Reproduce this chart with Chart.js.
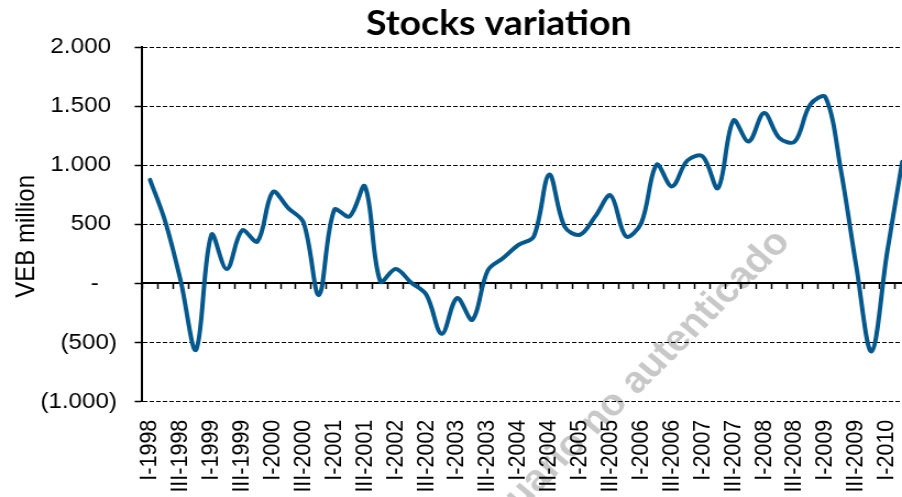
<!DOCTYPE html>
<html><head><meta charset="utf-8">
<script src="https://cdn.jsdelivr.net/npm/chart.js@4.4.1/dist/chart.umd.min.js"></script>
<style>
html,body{margin:0;padding:0;width:902px;height:497px;overflow:hidden;background:#fff;}
#wrap{position:absolute;left:0;top:0;width:907px;height:497px;transform:scaleX(1.1);transform-origin:0 0;}
</style></head><body>
<div id="wrap"><canvas id="c"></canvas></div>
<script>
const categories = [
  'I-1998','II-1998','III-1998','IV-1998',
  'I-1999','II-1999','III-1999','IV-1999',
  'I-2000','II-2000','III-2000','IV-2000',
  'I-2001','II-2001','III-2001','IV-2001',
  'I-2002','II-2002','III-2002','IV-2002',
  'I-2003','II-2003','III-2003','IV-2003',
  'I-2004','II-2004','III-2004','IV-2004',
  'I-2005','II-2005','III-2005','IV-2005',
  'I-2006','II-2006','III-2006','IV-2006',
  'I-2007','II-2007','III-2007','IV-2007',
  'I-2008','II-2008','III-2008','IV-2008',
  'I-2009','II-2009','III-2009','IV-2009',
  'I-2010','II-2010'
];
const stocksVariation = [
  877, 520, 20, -560,
  412, 122, 449, 355,
  773, 638, 515, -96,
  623, 567, 821, 17,
  122, 8, -96, -426,
  -124, -307, 110, 215,
  327, 398, 920, 482,
  412, 567, 745, 398,
  511, 1004, 821, 1040,
  1075, 807, 1379, 1201,
  1441, 1230, 1200, 1512,
  1575, 960, 150, -575,
  250, 1030
];
const yTickValues = [-1000, -500, 0, 500, 1000, 1500, 2000];
const yTickLabels = ['(1.000)', '(500)', '-', '500', '1.000', '1.500', '2.000'];
const chartTitle = 'Stocks variation';
const yAxisTitle = 'VEB million';
const watermarkText = 'Usuario no autenticado';

const watermark = {
  id: 'watermark',
  beforeDraw(chart) {
    const ctx = chart.ctx;
    ctx.save();
    ctx.translate(712, 236);
    ctx.rotate(-47.4 * Math.PI / 180);
    ctx.font = 'bold 37px "Liberation Sans", Arial, sans-serif';
    ctx.fillStyle = '#c8c8c8';
    ctx.textAlign = 'right';
    ctx.textBaseline = 'middle';
    ctx.fillText(watermarkText, 0, 0);
    ctx.restore();
  }
};

const FONT = '"Liberation Sans", Arial, sans-serif';

new Chart(document.getElementById('c'), {
  type: 'line',
  data: {
    labels: categories,
    datasets: [{
      data: stocksVariation,
      borderColor: '#04588C',
      borderWidth: 4,
      pointRadius: 0,
      tension: 0.35,
      fill: false,
      borderCapStyle: 'round',
      borderJoinStyle: 'round',
      xAxisID: 'x',
      yAxisID: 'y'
    }]
  },
  plugins: [watermark],
  options: {
    responsive: true,
    maintainAspectRatio: false,
    animation: false,
    layout: { padding: 0 },
    plugins: {
      legend: { display: false },
      tooltip: { enabled: false },
      title: {
        display: true,
        text: chartTitle,
        color: '#000',
        font: { family: 'Lato, "Open Sans", sans-serif', size: 34, weight: 'bold' },
        padding: { top: 3.6, bottom: 2.6 }
      }
    },
    scales: {
      x: {
        type: 'category',
        position: 'bottom',
        offset: true,
        grid: { display: false, drawTicks: false, offset: true },
        border: { display: false },
        ticks: {
          autoSkip: false,
          minRotation: 90,
          maxRotation: 90,
          padding: 18,
          color: '#000',
          font: { family: FONT, size: 21.5 },
          callback: function (val, index) {
            return index % 2 === 0 ? this.getLabelForValue(val) : '';
          }
        },
        afterFit(s) { s.height = 95.3; }
      },
      x2: {
        type: 'category',
        position: { y: 0 },
        offset: true,
        grid: {
          display: true,
          offset: true,
          drawOnChartArea: false,
          drawTicks: true,
          tickLength: 5,
          tickColor: '#000',
          tickWidth: 1.5,
          color: '#000'
        },
        border: { display: true, color: '#000', width: 2 },
        ticks: { display: false, autoSkip: false }
      },
      y: {
        type: 'linear',
        position: 'left',
        min: -1000,
        max: 2000,
        grid: {
          color: '#000',
          lineWidth: 1,
          drawTicks: true,
          tickLength: 7,
          tickColor: '#000',
          tickWidth: 1.5
        },
        border: { display: true, color: '#000', width: 2, dash: [4, 2] },
        ticks: {
          stepSize: 500,
          padding: 16,
          color: '#000',
          font: { family: FONT, size: 22 },
          callback: function (v) {
            const i = yTickValues.indexOf(v);
            if (i < 0) return '';
            const lab = yTickLabels[i];
            if (v > 0) return lab + '\u2005';
            if (v === 0) return lab + '\u2002\u2005';
            return lab;
          }
        },
        title: {
          display: true,
          text: yAxisTitle + '\u2003',
          color: '#000',
          font: { family: FONT, size: 24 },
          padding: { top: 10, bottom: 0 }
        },
        afterFit(s) { s.width = 129.4; }
      },
      y2: {
        type: 'linear',
        position: 'right',
        display: true,
        grid: { display: false, drawTicks: false },
        border: { display: false },
        ticks: { display: false },
        afterFit(s) { s.width = 79.8; }
      }
    }
  }
});
</script>
</body></html>
